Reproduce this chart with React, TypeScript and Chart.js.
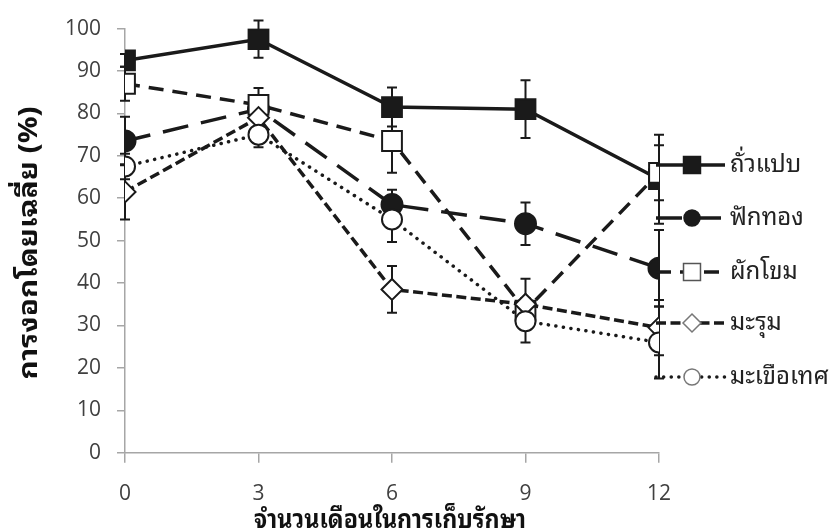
import React, { useEffect, useRef } from "react";
import { Chart, registerables } from "chart.js";

Chart.register(...registerables);

const months = [0, 3, 6, 9, 12];
const seriesNames = ["ถั่วแปบ", "ฟักทอง", "ผักโขม", "มะรุม", "มะเขือเทศ"];
const tuaPaeb = [92.5, 97.5, 81.5, 81, 64.5];
const tuaPaebErr = [1.5, 4.4, 4.6, 6.8, 10.5];
const fakThong = [73.5, 81, 58.5, 54, 43.5];
const fakThongErr = [5.7, 3, 3.5, 5, 9];
const phakKhom = [87, 82, 73.5, 33.5, 66];
const phakKhomErr = [4, 4, 7.5, 3, 6.5];
const marum = [61.5, 79, 38.5, 35, 29.5];
const marumErr = [6.5, 3, 5.5, 6, 6.5];
const makhuea = [67.5, 75, 55, 31, 26];
const makhueaErr = [3, 3, 5.3, 5, 8.5];
const xTitle = "จำนวนเดือนในการเก็บรักษา";
const yTitle = "การงอกโดยเฉลี่ย (%)";

const INK = "#1a1a1a";
const AXIS = "#a6a6a6";
const THAI = '"Noto Sans Thai Looped", "Noto Sans Thai", "Noto Sans", "DejaVu Sans", sans-serif';

const values = [tuaPaeb, fakThong, phakKhom, marum, makhuea];
const errors = [tuaPaebErr, fakThongErr, phakKhomErr, marumErr, makhueaErr];
const dashes = [[], [26, 13], [15, 9], [10, 4.5], [0.1, 7.5]];
const styles = [
  { pointStyle: "rect", radius: 14, fill: INK, border: INK, lr: 12, lfill: INK, lborder: INK },
  { pointStyle: "circle", radius: 10.5, fill: INK, border: INK, lr: 8, lfill: INK, lborder: INK },
  { pointStyle: "rect", radius: 14, fill: "#ffffff", border: INK, lr: 12, lfill: "#ffffff", lborder: "#555" },
  { pointStyle: "rectRot", radius: 10.5, fill: "#ffffff", border: INK, lr: 9, lfill: "#ffffff", lborder: "#777" },
  { pointStyle: "circle", radius: 10, fill: "#ffffff", border: INK, lr: 8, lfill: "#ffffff", lborder: "#777" },
];
const legendY = [165, 218, 272, 323, 377];

const errorBarPlugin = {
  id: "errorBars",
  beforeDatasetsDraw(chart: any) {
    const { ctx, scales } = chart;
    const xs = scales.x;
    const ys = scales.y;
    ctx.save();
    ctx.strokeStyle = INK;
    ctx.lineWidth = 2;
    ctx.setLineDash([]);
    errors.forEach((errs, i) => {
      errs.forEach((e, j) => {
        const x = xs.getPixelForValue(months[j]);
        const yt = ys.getPixelForValue(values[i][j] + e);
        const yb = ys.getPixelForValue(values[i][j] - e);
        ctx.beginPath();
        ctx.moveTo(x, yt);
        ctx.lineTo(x, yb);
        ctx.moveTo(x - 5, yt);
        ctx.lineTo(x + 5, yt);
        ctx.moveTo(x - 5, yb);
        ctx.lineTo(x + 5, yb);
        ctx.stroke();
      });
    });
    ctx.restore();
  },
};

function fitText(ctx: CanvasRenderingContext2D, text: string, x: number, y: number, width: number) {
  const w = ctx.measureText(text).width;
  const k = width / w;
  ctx.save();
  ctx.translate(x, y);
  ctx.scale(k, 1);
  ctx.fillText(text, 0, 0);
  ctx.restore();
}

const decorPlugin = {
  id: "decor",
  afterDraw(chart: any) {
    const { ctx } = chart;
    ctx.save();
    // legend
    seriesNames.forEach((name, i) => {
      const y = legendY[i];
      const st = styles[i];
      ctx.strokeStyle = INK;
      ctx.lineWidth = 3.5;
      ctx.lineCap = i === 4 ? "round" : "butt";
      ctx.setLineDash(dashes[i]);
      ctx.beginPath();
      ctx.moveTo(656, y);
      ctx.lineTo(725, y);
      ctx.stroke();
      ctx.setLineDash([]);
      ctx.lineCap = "butt";
      ctx.fillStyle = st.lfill;
      ctx.strokeStyle = st.lborder;
      ctx.lineWidth = 1.5;
      const cx = 692;
      const r = st.lr;
      ctx.beginPath();
      if (st.pointStyle === "circle") {
        ctx.arc(cx, y, r, 0, Math.PI * 2);
      } else if (st.pointStyle === "rect") {
        const h = r * Math.SQRT1_2;
        ctx.rect(cx - h, y - h, 2 * h, 2 * h);
      } else {
        ctx.moveTo(cx, y - r);
        ctx.lineTo(cx + r, y);
        ctx.lineTo(cx, y + r);
        ctx.lineTo(cx - r, y);
        ctx.closePath();
      }
      ctx.fill();
      ctx.stroke();
      ctx.fillStyle = "#222";
      ctx.font = `24px ${THAI}`;
      ctx.textAlign = "left";
      ctx.textBaseline = "middle";
      ctx.fillText(name, 730, y);
    });
    // axis titles
    ctx.fillStyle = "#111";
    ctx.font = `bold 26px ${THAI}`;
    ctx.textAlign = "center";
    ctx.textBaseline = "middle";
    ctx.save();
    ctx.translate(30, 243);
    ctx.rotate(-Math.PI / 2);
    fitText(ctx, yTitle, 0, 0, 273);
    ctx.restore();
    ctx.textBaseline = "top";
    fitText(ctx, xTitle, 390, 508, 272);
    ctx.restore();
  },
};

export default function App() {
  const ref = useRef<HTMLCanvasElement>(null);
  useEffect(() => {
    document.body.style.margin = "0";
    const canvas = ref.current;
    if (!canvas) return;
    const tickFont = { family: '"Open Sans", sans-serif', size: 21 };
    const chart = new Chart(canvas, {
      type: "line",
      data: {
        datasets: seriesNames.map((name, i) => ({
          label: name,
          data: months.map((m, j) => ({ x: m, y: values[i][j] })),
          borderColor: INK,
          borderWidth: 3.5,
          borderDash: dashes[i],
          borderCapStyle: i === 4 ? "round" : "butt",
          pointStyle: styles[i].pointStyle as any,
          pointRadius: styles[i].radius,
          pointBackgroundColor: styles[i].fill,
          pointBorderColor: styles[i].border,
          pointBorderWidth: 2,
          fill: false,
          tension: 0,
          order: 5 - i,
        })),
      },
      options: {
        animation: false,
        responsive: false,
        layout: { padding: { top: 25, right: 177, left: 0, bottom: 0 } },
        plugins: { legend: { display: false }, tooltip: { enabled: false } },
        scales: {
          x: {
            type: "linear",
            min: 0,
            max: 12,
            ticks: { stepSize: 3, font: tickFont, color: "#404040", padding: 19 },
            grid: { drawOnChartArea: false, tickLength: 10, color: AXIS, lineWidth: 1.5 },
            border: { color: AXIS, width: 1.5 },
            afterFit: (s: any) => {
              s.height = 529 - 452.7;
            },
          },
          y: {
            min: 0,
            max: 100,
            ticks: { stepSize: 10, font: tickFont, color: "#404040", padding: 16 },
            grid: { drawOnChartArea: false, tickLength: 8, color: AXIS, lineWidth: 1.5 },
            border: { color: AXIS, width: 1.5 },
            afterFit: (s: any) => {
              s.width = 125;
            },
          },
        },
      },
      plugins: [errorBarPlugin, decorPlugin],
    });
    return () => chart.destroy();
  }, []);
  return (
    <div style={{ position: "absolute", left: 0, top: 0, width: 836, height: 529 }}>
      <canvas ref={ref} width={836} height={529} style={{ display: "block" }} />
    </div>
  );
}
